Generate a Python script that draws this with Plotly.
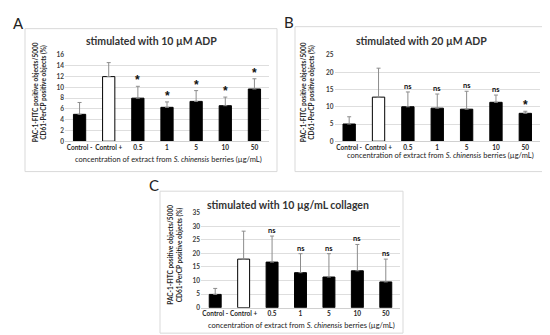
import plotly.graph_objects as go

categories = ["Control -", "Control +", "0.5", "1", "5", "10", "50"]

adp10_values = [5.0, 12.0, 8.0, 6.3, 7.4, 6.6, 9.7]
adp10_errors = [2.2, 2.6, 2.2, 1.0, 2.0, 1.6, 1.9]
adp10_marks = ["", "", "*", "*", "*", "*", "*"]

adp20_values = [5.0, 12.8, 10.0, 9.6, 9.3, 11.3, 8.1]
adp20_errors = [2.1, 8.4, 4.3, 4.1, 5.2, 2.1, 0.6]
adp20_marks = ["", "", "ns", "ns", "ns", "ns", "*"]

coll_values = [4.9, 17.9, 16.8, 12.9, 11.3, 13.6, 9.5]
coll_errors = [2.2, 10.3, 9.6, 7.0, 8.6, 9.7, 8.4]
coll_marks = ["", "", "ns", "ns", "ns", "ns", "ns"]

titles = ["stimulated with 10 µM ADP", "stimulated with 20 µM ADP",
          "stimulated with 10 µg/mL collagen"]
panel_letters = ["A", "B", "C"]
y_ranges = [16, 25, 35]
y_dticks = [2, 5, 5]
ytitle = "PAC-1-FITC positive objects/5000<br>CD61-PerCP positive objects (%)"
xtitle = "concentration of extract from <i>S. chinensis</i> berries (µg/mL)"

W, H = 550, 335
FONT = "Lato"


def fx(p):
    return p / W


def fy(p):
    return 1 - p / H


# panel geometry in pixels
panels = [
    dict(x0=57, x1=261, y0=132, y1=44, box=(17, 17, 269, 163), title=(143, 30),
         letter=(10, 11), yt=(32, 82), xt=(160, 151)),
    dict(x0=326.5, x1=532, y0=132, y1=44, box=(287, 15, 540, 163), title=(413, 30),
         letter=(281, 10), yt=(300, 82), xt=(432, 147)),
    dict(x0=193, x1=392, y0=302, y1=205, box=(152, 183, 395, 328), title=(280, 197),
         letter=(146, 177), yt=(167, 248), xt=(293, 320)),
]

data_sets = [(adp10_values, adp10_errors, adp10_marks),
             (adp20_values, adp20_errors, adp20_marks),
             (coll_values, coll_errors, coll_marks)]

fig = go.Figure()
annotations = []
shapes = []
layout = dict(width=W, height=H, margin=dict(l=0, r=0, t=0, b=0),
              paper_bgcolor="white", plot_bgcolor="white", showlegend=False,
              font=dict(family=FONT, color="#404040"))

colors = ["black", "white", "black", "black", "black", "black", "black"]


def paper_text(x, y, text, size, color="#222", angle=0):
    annotations.append(dict(x=fx(x), y=fy(y), xref="paper", yref="paper",
                            xanchor="center", yanchor="middle",
                            showarrow=False, textangle=angle, text=text,
                            font=dict(family=FONT, size=size, color=color)))


for i, (p, (vals, errs, marks)) in enumerate(zip(panels, data_sets)):
    xa = "x" if i == 0 else f"x{i+1}"
    ya = "y" if i == 0 else f"y{i+1}"
    fig.add_trace(go.Bar(
        x=categories, y=vals, xaxis=xa, yaxis=ya,
        marker=dict(color=colors, line=dict(color="black", width=1)),
        error_y=dict(type="data", symmetric=False, array=errs,
                     arrayminus=[0] * len(errs), color="#8c8c8c",
                     thickness=1, width=2),
        width=0.42,
    ))
    xkey = "xaxis" if i == 0 else f"xaxis{i+1}"
    ykey = "yaxis" if i == 0 else f"yaxis{i+1}"
    layout[xkey] = dict(domain=[fx(p["x0"]), fx(p["x1"])], anchor=ya,
                        type="category", tickangle=0,
                        showline=True, linecolor="#d0d0d0", linewidth=1,
                        ticks="", showgrid=False,
                        tickfont=dict(family=FONT, size=6.5, color="#262626",
                                      weight="bold"))
    layout[ykey] = dict(domain=[fy(p["y0"]), fy(p["y1"])], anchor=xa,
                        range=[0, y_ranges[i]], dtick=y_dticks[i],
                        showgrid=True, gridcolor="#dedede", gridwidth=1,
                        zeroline=False, showline=False, ticks="",
                        tickfont=dict(family=FONT, size=6.5, color="#404040",
                                      weight="bold"))
    # marks
    for k, (v, e, m) in enumerate(zip(vals, errs, marks)):
        if m == "*":
            annotations.append(dict(
                x=k, y=v + e, xref=xa, yref=ya, text="<b>*</b>", showarrow=False,
                xanchor="center", yanchor="bottom", yshift=-3,
                font=dict(family="Liberation Sans", size=12, color="#111")))
        elif m:
            annotations.append(dict(
                x=k, y=v + e, xref=xa, yref=ya, text=m, showarrow=False,
                xanchor="center", yanchor="bottom", yshift=-1,
                font=dict(family=FONT, size=7.5, color="#111", weight="bold")))
    # box
    bx0, by0, bx1, by1 = p["box"]
    shapes.append(dict(type="rect", xref="paper", yref="paper",
                       x0=fx(bx0), x1=fx(bx1), y0=fy(by1), y1=fy(by0),
                       line=dict(color="#d9d9d9", width=1)))
    paper_text(p["title"][0], p["title"][1], f"<b>{titles[i]}</b>", 10.5, "#333")
    paper_text(p["letter"][0], p["letter"][1], panel_letters[i], 15, "#222")
    paper_text(p["yt"][0], p["yt"][1], f"<b>{ytitle}</b>", 6.5, "#262626", -90)
    paper_text(p["xt"][0], p["xt"][1], xtitle, 7.5, "#1a1a1a")

layout["annotations"] = annotations
layout["shapes"] = shapes
fig.update_layout(**layout)
fig.write_html("out.html")
